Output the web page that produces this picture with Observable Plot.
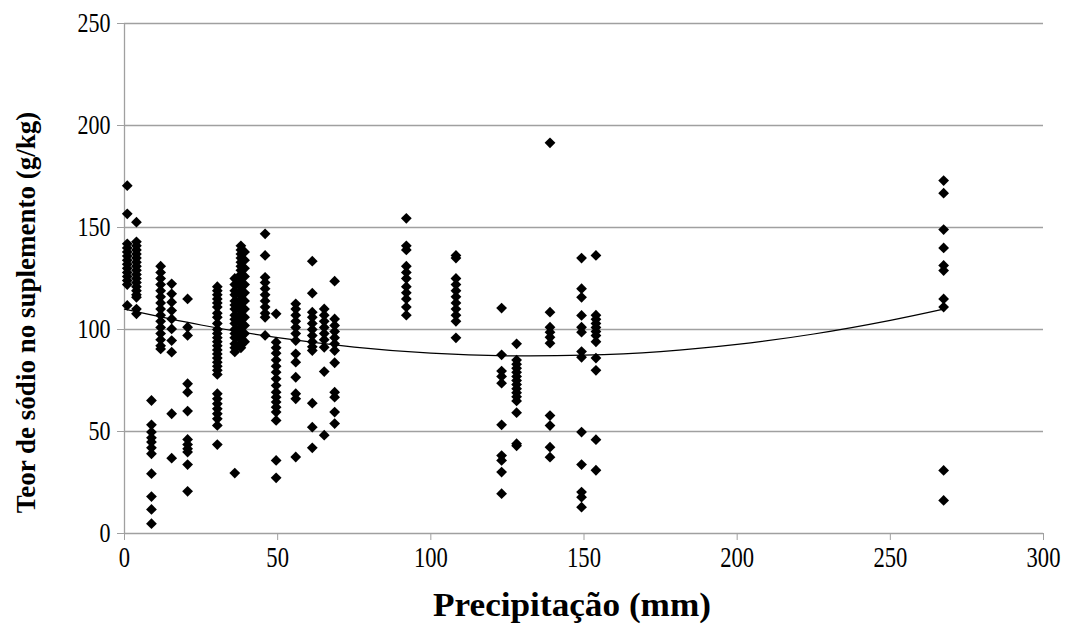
<!DOCTYPE html>
<html>
<head>
<meta charset="utf-8">
<script src="https://cdn.jsdelivr.net/npm/d3@7"></script>
<script src="https://cdn.jsdelivr.net/npm/@observablehq/plot@0.6"></script>
<style>
  html, body { margin: 0; padding: 0; background: #fff; }
  #chart svg { display: block; }
  #chart svg, #chart svg text { font-family: "Liberation Serif", "Times New Roman", serif !important; }
</style>
</head>
<body>
<div id="chart"></div>
<script>
// Precipitation (mm) of each column of observations
const precipitacao = [0.9, 3.9, 8.8, 11.8, 15.4, 20.6, 30.3, 36.0, 38.0, 39.2, 45.9, 49.5, 55.9, 61.3, 65.2, 68.6, 92.0, 108.2, 123.1, 128.0, 138.9, 149.2, 153.9, 267.4];

// Sodium content (g/kg) observed at each precipitation column
const teor = [
  [170.5, 156.7, 142, 140, 138, 136, 134, 132, 130, 128, 126, 124, 122, 111.8],
  [152.6, 143, 141, 139, 137, 135, 133, 131, 129, 127, 125, 123, 121, 119, 117, 115.8, 110, 107.7],
  [65.2, 53.3, 49.7, 46.9, 44.8, 42, 39.1, 29.3, 18.1, 11.8, 4.8],
  [131, 128, 125, 122, 119, 116, 113, 110, 107, 104, 101, 98, 95, 92, 90.5],
  [122.4, 117.5, 113.4, 109.3, 105.2, 100.3, 94.6, 88.9, 58.7, 36.9],
  [115, 101.1, 97.1, 73.4, 69.3, 60, 46.1, 43.6, 41.5, 39.9, 33.8, 20.7],
  [121, 119, 117, 115, 113, 111, 108, 106, 103, 100, 98, 96, 94, 92, 90, 88, 86, 84, 82, 80, 78, 68.5, 66, 63.6, 61.1, 58.7, 56.2, 53, 43.6],
  [125, 122, 119, 117, 114, 112, 110, 107, 105, 103, 100, 98, 96, 93, 91, 89, 29.6],
  [141, 139, 137, 135, 133, 131, 129, 127, 125, 123, 121, 119, 117, 115, 113, 111, 109, 107, 105, 103, 101, 99, 97, 95, 93, 91],
  [138, 134, 130, 126, 122, 118, 114, 110, 106, 102, 98, 94],
  [146.9, 136.3, 125.6, 123, 120, 117, 114, 111, 108, 106, 97.1],
  [107.7, 93.8, 91, 88.4, 85, 82, 79.1, 75.8, 72.5, 69.3, 66.8, 64.4, 61.9, 59.5, 55.4, 35.8, 27.3],
  [112.6, 110, 107, 104, 101, 98, 94.6, 88.1, 84, 76.6, 68.5, 66, 37.5],
  [133.5, 117.8, 108.5, 106, 103, 100, 97, 94, 91.5, 89.7, 63.9, 52.1, 42],
  [110.1, 107, 104, 101, 98, 95, 91.3, 79.4, 48.2],
  [123.7, 105.2, 102, 99, 96, 93, 89.7, 83.7, 69.3, 66.8, 59.5, 53.9],
  [154.5, 141, 139, 131, 128, 125, 121, 118, 115, 111, 107],
  [136.3, 135, 125, 122, 119, 116, 113, 110, 107, 104, 95.9],
  [110.5, 87.6, 79.6, 77, 73.7, 53.3, 38.2, 35.8, 30.1, 19.5],
  [93, 85, 83, 81, 79, 77, 75, 73, 71, 69, 67, 65, 59.2, 44, 43],
  [191.5, 108.5, 101.1, 98.7, 96.2, 93.3, 57.8, 52.9, 42.3, 37.4],
  [135, 120, 115.8, 106.9, 101.1, 98.7, 89.2, 86.4, 49.7, 33.8, 20.3, 17.8, 12.9],
  [136.3, 107, 105, 103, 101, 99, 97, 94, 86, 80, 46, 31],
  [173, 166.8, 149, 140, 131.4, 128.9, 115, 111, 30.9, 16.2]
];

// Trend curve
const trendX = [0, 25, 50, 75, 100, 125, 150, 175, 200, 225, 250, 267.4];
const trendY = [110, 102.2, 96, 91.4, 88.4, 87.1, 87.4, 89.2, 92.7, 97.8, 104.5, 110];

const xTicks = [0, 50, 100, 150, 200, 250, 300];
const yTicks = [0, 50, 100, 150, 200, 250];

const xTitle = "Precipitação (mm)";
const yTitle = "Teor de sódio no suplemento (g/kg)";

const points = precipitacao.flatMap((p, i) => teor[i].map(t => ({p, t})));
const trend = trendX.map((x, i) => ({x, y: trendY[i]}));

const grid = "#a0a0a0";
const serif = "'Liberation Serif', 'Times New Roman', serif";

const chart = Plot.plot({
  width: 1070,
  height: 630,
  marginLeft: 124,
  marginRight: 27,
  marginTop: 23,
  marginBottom: 97,
  style: {fontFamily: serif, fontSize: "22px", color: "#000", background: "#fff"},
  x: {domain: [0, 300]},
  y: {domain: [0, 250]},
  marks: [
    Plot.ruleY(yTicks.filter(d => d > 0), {stroke: grid, strokeWidth: 1.3}),
    Plot.ruleX([0], {stroke: grid, strokeWidth: 1.3}),
    Plot.ruleY([0], {stroke: grid, strokeWidth: 1.3}),
    Plot.axisY({ticks: yTicks, tickSize: 7, tickPadding: 7, stroke: grid, fill: "#000", label: null, fontSize: 27, fontFamily: serif}),
    Plot.axisX({ticks: xTicks, tickSize: 7, tickPadding: 6, stroke: grid, fill: "#000", label: null, fontSize: 29, fontFamily: serif}),
    Plot.line(trend, {x: "x", y: "y", curve: "natural", stroke: "#000", strokeWidth: 1.2}),
    Plot.dot(points, {x: "p", y: "t", symbol: "square", rotate: 45, r: 4.3, fill: "#000", stroke: null}),
    Plot.text([xTitle], {frameAnchor: "bottom", dx: -12, dy: 82, fontWeight: "bold", fontSize: 33, fontFamily: serif, fill: "#000"}),
    Plot.text([yTitle], {frameAnchor: "left", textAnchor: "middle", rotate: -90, dx: -98, dy: 34, fontWeight: "bold", fontSize: 27, fontFamily: serif, fill: "#000"})
  ]
});

// Narrow the horizontal texts to match the condensed look of the reference
chart.querySelectorAll('g[aria-label="y-axis tick label"] text').forEach(t => {
  t.setAttribute("textLength", t.textContent.length * 11);
  t.setAttribute("lengthAdjust", "spacingAndGlyphs");
});
chart.querySelectorAll('g[aria-label="x-axis tick label"] text').forEach(t => {
  t.setAttribute("textLength", t.textContent.length * 11.3);
  t.setAttribute("lengthAdjust", "spacingAndGlyphs");
});
chart.querySelectorAll('g[aria-label="text"] text').forEach(t => {
  if (t.textContent === xTitle) {
    t.setAttribute("textLength", 278);
    t.setAttribute("lengthAdjust", "spacingAndGlyphs");
  }
});

document.getElementById("chart").appendChild(chart);
</script>
</body>
</html>
